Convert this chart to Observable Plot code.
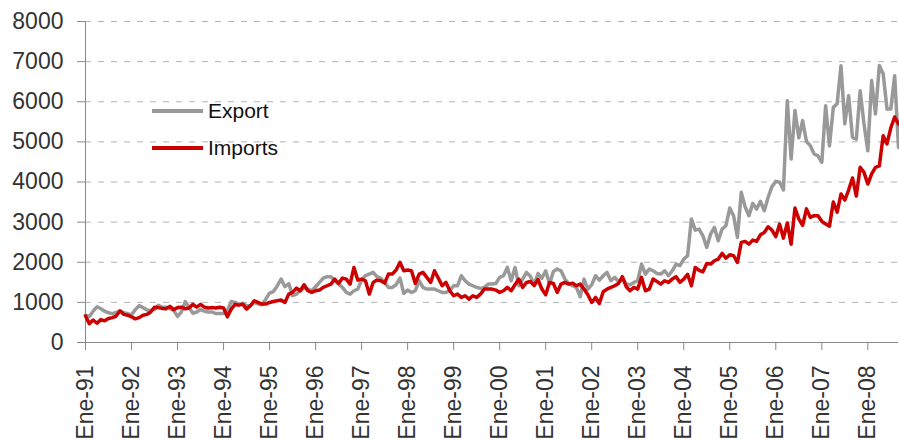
<!DOCTYPE html>
<html>
<head>
<meta charset="utf-8">
<script src="https://cdn.jsdelivr.net/npm/d3@7"></script>
<script src="https://cdn.jsdelivr.net/npm/@observablehq/plot@0.6"></script>
<style>
  html, body { margin: 0; padding: 0; background: #fff; }
  #wrap { position: relative; width: 899px; height: 443px; font-family: "Liberation Sans", Arial, sans-serif; }
  .legend { position: absolute; left: 152px; height: 24px; line-height: 24px; font-size: 21px; color: #111; display: flex; align-items: center; }
  .legend .sw { display: inline-block; width: 51px; height: 4px; margin-right: 5px; }
  #wrap g[aria-label^="x-axis"] line, #wrap g[aria-label^="x-axis"] path,
  #wrap g[aria-label^="y-axis"] line, #wrap g[aria-label^="y-axis"] path { stroke: #888 !important; }
</style>
</head>
<body>
<div id="wrap">
  <div class="legend" style="top:98.5px"><span class="sw" style="background:#999999"></span>Export</div>
  <div class="legend" style="top:136px"><span class="sw" style="background:#cc0000"></span>Imports</div>
</div>
<script>
// Monthly series, Jan 1991 .. Sep 2008
const exportVals = [
  680, 650, 780, 890, 840, 780, 740, 720, 750, 780, 740, 720,          // 1991
  690, 820, 920, 870, 810, 800, 820, 930, 880, 880, 850, 800,          // 1992
  650, 760, 1020, 880, 730, 760, 820, 780, 760, 760, 720, 720,         // 1993
  720, 800, 1020, 1000, 950, 970, 915, 915, 1000, 960, 940, 1080,      // 1994
  1230, 1270, 1410, 1580, 1390, 1470, 1165, 1206, 1290, 1356, 1331, 1290, // 1995
  1390, 1497, 1605, 1640, 1640, 1540, 1456, 1373, 1248, 1206, 1290, 1331, // 1996
  1555, 1664, 1705, 1747, 1640, 1605, 1497, 1373, 1373, 1440, 1605, 1223, // 1997
  1306, 1248, 1290, 1539, 1373, 1331, 1331, 1331, 1290, 1248, 1248, 1290, // 1998
  1414, 1414, 1664, 1539, 1456, 1414, 1373, 1348, 1373, 1456, 1456, 1472, // 1999
  1622, 1664, 1871, 1539, 1871, 1414, 1580, 1747, 1650, 1450, 1720, 1600, // 2000
  1788, 1456, 1772, 1830, 1788, 1580, 1470, 1414, 1373, 1140, 1580, 1331, // 2001
  1440, 1664, 1555, 1664, 1747, 1539, 1622, 1522, 1580, 1456, 1440, 1497, // 2002
  1539, 1955, 1705, 1830, 1788, 1722, 1705, 1788, 1664, 1788, 1955, 1913, // 2003
  2079, 2162, 3080, 2800, 2827, 2660, 2370, 2702, 2868, 2536, 2827, 2910, // 2004
  3350, 3159, 2619, 3742, 3384, 3159, 3467, 3326, 3517, 3284, 3617, 3884, // 2005
  4016, 3992, 3800, 6028, 4573, 5779, 5100, 5529, 5010, 4906, 4698, 4650, // 2006
  4490, 5900, 4900, 5860, 5950, 6900, 5450, 6153, 5113, 5070, 6277, 5446, // 2007
  4781, 6527, 5696, 6901, 6700, 5820, 5820, 6650, 4860                    // 2008
];
const importVals = [
  660, 470, 560, 480, 570, 540, 600, 620, 660, 790, 700, 680,          // 1991
  640, 590, 620, 680, 700, 760, 880, 870, 850, 840, 900, 820,          // 1992
  870, 880, 840, 860, 950, 880, 950, 880, 860, 870, 860, 880,          // 1993
  860, 640, 830, 950, 930, 957, 832, 915, 1040, 998, 957, 957,         // 1994
  998, 1023, 1040, 1057, 998, 1206, 1248, 1356, 1290, 1440, 1290, 1248, // 1995
  1290, 1306, 1373, 1414, 1456, 1580, 1472, 1605, 1580, 1456, 1871, 1555, // 1996
  1580, 1539, 1206, 1497, 1555, 1539, 1480, 1705, 1705, 1805, 1996, 1788, // 1997
  1805, 1788, 1472, 1705, 1747, 1622, 1497, 1788, 1605, 1414, 1497, 1290, // 1998
  1165, 1206, 1123, 1165, 1082, 1165, 1123, 1206, 1331, 1331, 1331, 1306, // 1999
  1248, 1290, 1373, 1290, 1440, 1580, 1373, 1497, 1520, 1420, 1570, 1331, // 2000
  1190, 1497, 1470, 1248, 1456, 1497, 1456, 1480, 1414, 1456, 1331, 1190, // 2001
  998, 1123, 973, 1265, 1331, 1373, 1414, 1470, 1640, 1390, 1289, 1373,   // 2002
  1331, 1622, 1289, 1331, 1580, 1522, 1456, 1539, 1497, 1580, 1640, 1500, // 2003
  1580, 1700, 1414, 1871, 1800, 1760, 1970, 1954, 2037, 2079, 2220, 2100, // 2004
  2186, 2162, 1996, 2494, 2519, 2452, 2552, 2519, 2685, 2743, 2885, 2802, // 2005
  2636, 2950, 2600, 2980, 2450, 3350, 3080, 2920, 3330, 3118, 3160, 3160, // 2006
  3020, 2952, 2900, 3500, 3250, 3700, 3550, 3800, 4100, 3650, 4365, 4240, // 2007
  3950, 4200, 4365, 4400, 5150, 4950, 5350, 5620, 5450                    // 2008
];
const tickLabels = ["Ene-91","Ene-92","Ene-93","Ene-94","Ene-95","Ene-96","Ene-97","Ene-98","Ene-99",
                    "Ene-00","Ene-01","Ene-02","Ene-03","Ene-04","Ene-05","Ene-06","Ene-07","Ene-08"];
const yTicks = [0, 1000, 2000, 3000, 4000, 5000, 6000, 7000, 8000];
const seriesNames = ["Export", "Imports"];

const rows = exportVals.map((v, i) => ({i, exp: v, imp: importVals[i]}));

const chart = Plot.plot({
  width: 899,
  height: 443,
  marginLeft: 85,
  marginRight: 1,
  marginTop: 21,
  marginBottom: 101,
  style: {fontFamily: '"Liberation Sans", Arial, sans-serif', fontSize: "23px", color: "#333", background: "#fff", overflow: "visible"},
  x: {domain: [0, exportVals.length - 1], ticks: tickLabels.map((d, k) => k * 12), tickFormat: v => tickLabels[Math.round(v / 12)],
      tickRotate: -90, tickSize: 8, tickPadding: 15, label: null},
  y: {domain: [0, 8000], ticks: yTicks, tickSize: 8, tickPadding: 14, label: null, tickFormat: d => String(d)},
  marks: [
    Plot.ruleY(yTicks.filter(d => d > 0), {stroke: "#b3b3b3", strokeDasharray: "6,7", strokeWidth: 1}),
    Plot.ruleY([0], {stroke: "#888"}),
    Plot.ruleX([0], {stroke: "#888"}),
    Plot.line(rows, {x: "i", y: "exp", stroke: "#999999", strokeWidth: 3.5}),
    Plot.line(rows, {x: "i", y: "imp", stroke: "#cc0000", strokeWidth: 3.5})
  ]
});
document.getElementById("wrap").prepend(chart);
</script>
</body>
</html>
